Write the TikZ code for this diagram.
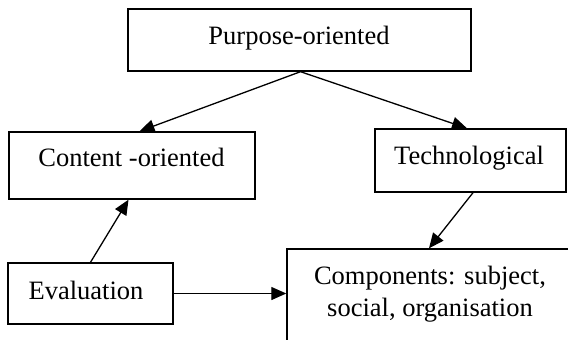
\documentclass[tikz,border=0pt]{standalone}
\usepackage{fontspec}
\setmainfont{Liberation Serif}
\usetikzlibrary{arrows.meta}
\begin{document}
\begin{tikzpicture}[x=1pt,y=-1pt,
  box/.style={draw=black,line width=1.4pt,rectangle,inner sep=0pt,fill=white},
  lbl/.style={inner sep=0pt,anchor=base,font=\fontsize{26.5}{32.4}\selectfont},
  conn/.style={line width=1.3pt,-{Triangle[length=15pt,width=13pt]}}]
\useasboundingbox (0,0) rectangle (568,340);
% boxes
\node[box,minimum width=343pt,minimum height=62pt] (pur) at (299.5,40) {};
\node[box,minimum width=246pt,minimum height=67pt] (con) at (132,165.5) {};
\node[box,minimum width=191pt,minimum height=63pt] (tec) at (470.5,160.5) {};
\node[box,minimum width=165pt,minimum height=61pt] (eva) at (90.5,293.5) {};
\node[box,minimum width=284pt,minimum height=101pt] (com) at (429,299.5) {};
% texts
\node[lbl] (tpur) at (299,45) {Purpose-oriented};
\node[lbl] (tcon) at (131.5,166.7) {Content -oriented};
\node[lbl] (ttec) at (469,164) {Technological};
\node[lbl] (teva) at (86,299.3) {Evaluation};
\node[lbl] (tcom1) at (430,284.3) {Components: subject,};
\node[lbl] (tcom2) at (430,316.7) {social, organisation};
% connectors
\draw[conn] ([xshift=1pt]pur.south) -- ([xshift=7.5pt]con.north);
\draw[conn] ([xshift=1pt]pur.south) -- ([xshift=-3.5pt]tec.north);
\draw[conn] ([xshift=2.5pt]tec.south) -- ([xshift=0pt]com.north);
\draw[conn] ([xshift=0pt]eva.north) -- ([xshift=-3.5pt]con.south);
\draw[conn] (eva.east) -- (com.west |- eva.east);
\end{tikzpicture}
\end{document}
